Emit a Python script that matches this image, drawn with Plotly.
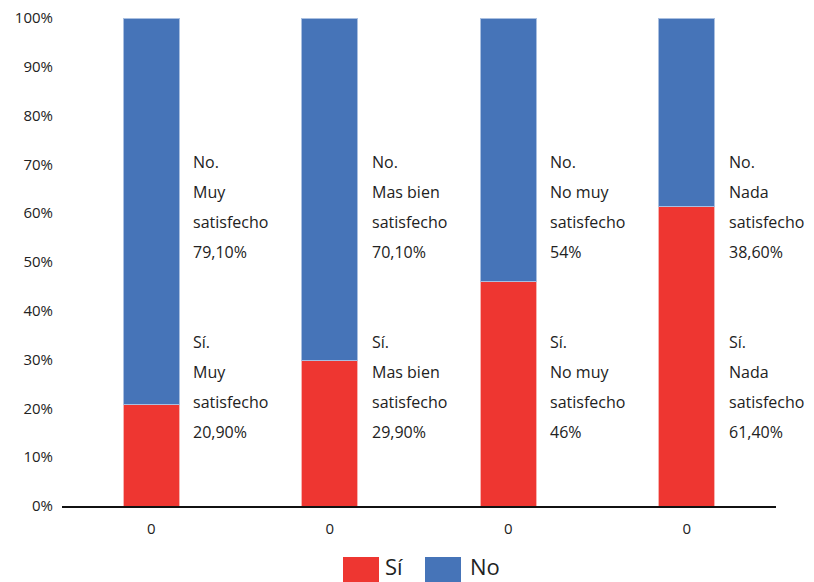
import plotly.graph_objects as go

categories = ["Muy satisfecho", "Mas bien satisfecho", "No muy satisfecho", "Nada satisfecho"]
label_first = ["Muy", "Mas bien", "No muy", "Nada"]
si_values = [20.9, 29.9, 46.0, 61.4]
no_values = [79.1, 70.1, 54.0, 38.6]
x_tick_labels = ["0", "0", "0", "0"]
series_names = ["Sí", "No"]

RED = "#EE3631"
BLUE = "#4674B8"
FONT = "'Open Sans', Lato, sans-serif"

def fmt(v):
    if abs(v - round(v)) < 1e-9:
        return f"{int(round(v))}%"
    return f"{v:.2f}".replace(".", ",") + "%"

xs = list(range(len(categories)))

fig = go.Figure()
fig.add_trace(go.Bar(x=xs, y=[v / 100 for v in si_values], name=series_names[0],
                     marker=dict(color=RED, line=dict(color="#F7B3B0", width=1)),
                     width=0.315))
fig.add_trace(go.Bar(x=xs, y=[v / 100 for v in no_values], name=series_names[1],
                     marker=dict(color=BLUE, line=dict(color="#A9BFE0", width=1)),
                     width=0.315))

annotations = []
no_ys = [0.705, 0.643, 0.582, 0.520]
si_ys = [0.336, 0.275, 0.213, 0.152]
for i, cat in enumerate(categories):
    no_lines = ["No.", label_first[i], "satisfecho", fmt(no_values[i])]
    si_lines = ["Sí.", label_first[i], "satisfecho", fmt(si_values[i])]
    for lines, ys in ((no_lines, no_ys), (si_lines, si_ys)):
        for txt, yy in zip(lines, ys):
            annotations.append(dict(x=i + 0.225, y=yy, xref="x", yref="y", text=txt,
                                    showarrow=False, xanchor="left", yanchor="middle",
                                    font=dict(family=FONT, size=16, color="#222222")))

# custom legend
shapes = [
    dict(type="rect", xref="paper", yref="paper", x0=(343 - 62) / 714, x1=(379 - 62) / 714,
         y0=(506 - 584) / 488, y1=(506 - 557) / 488, fillcolor=RED, line=dict(width=0)),
    dict(type="rect", xref="paper", yref="paper", x0=(425 - 62) / 714, x1=(461 - 62) / 714,
         y0=(506 - 584) / 488, y1=(506 - 557) / 488, fillcolor=BLUE, line=dict(width=0)),
]
for name, px in ((series_names[0], 383), (series_names[1], 468)):
    annotations.append(dict(x=(px - 62) / 714, y=(506 - 566) / 488, xref="paper", yref="paper",
                            text=name, showarrow=False, xanchor="left", yanchor="middle",
                            font=dict(family=FONT, size=22, color="#222222")))

fig.update_layout(
    barmode="stack",
    width=814, height=582,
    margin=dict(l=62, r=38, t=18, b=76),
    paper_bgcolor="white", plot_bgcolor="white",
    showlegend=False,
    annotations=annotations,
    shapes=shapes,
    font=dict(family=FONT, size=15, color="#222222"),
    xaxis=dict(range=[-0.5, 3.5], tickvals=xs, ticktext=x_tick_labels, showgrid=False,
               showline=True, linecolor="#111111", linewidth=2, ticks="", automargin=False,
               ticklabelstandoff=8,
               tickfont=dict(family=FONT, size=15, color="#222222")),
    yaxis=dict(range=[0, 1], tickvals=[i / 10 for i in range(11)], tickformat=".0%",
               showgrid=False, zeroline=False, showline=False, ticks="", automargin=False,
               ticklabelstandoff=8,
               tickfont=dict(family=FONT, size=15, color="#222222")),
)

fig.write_html("out.html", config={"displayModeBar": False})
with open("out.html", "r", encoding="utf-8") as f:
    html = f.read()
html = html.replace("<head>", "<head><style>html,body{margin:0;padding:0;overflow:hidden;}</style>", 1)
with open("out.html", "w", encoding="utf-8") as f:
    f.write(html)
